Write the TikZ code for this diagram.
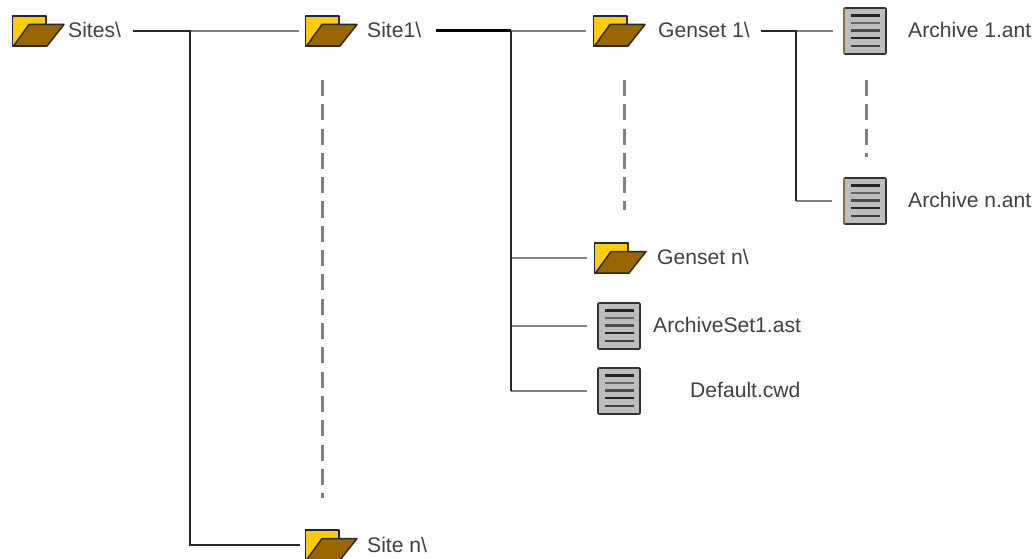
\documentclass[tikz,border=0pt]{standalone}
\usepackage{fontspec}
\setmainfont{Liberation Sans}
\definecolor{fyellow}{HTML}{FFCC00}
\definecolor{fbrown}{HTML}{996600}
\definecolor{dgrey}{HTML}{BDBDBD}
\definecolor{lgrey}{HTML}{808080}
\definecolor{ltext}{HTML}{404040}
\definecolor{dedge}{HTML}{8A7340}
\tikzset{
  x=1pt,y=-1pt,
  lab/.style={inner sep=0pt,font=\fontsize{21.1}{23}\selectfont,text=ltext,anchor=west},
  folder/.style={inner sep=0pt,minimum width=56pt,minimum height=34pt,
    path picture={
      \begin{scope}[shift={(path picture bounding box.center)},line width=1.5pt,draw=black!85,line join=round]
        \draw[fill=fyellow] (-25.5,-15) rectangle (8,15);
        \draw[fill=fbrown] (-24.5,15) -- (-9,-6.5) -- (26,-6.5) -- (9,15) -- cycle;
      \end{scope}}},
  docu/.style={inner sep=0pt,minimum width=46pt,minimum height=49pt,
    path picture={
      \begin{scope}[shift={(path picture bounding box.center)}]
        \draw[fill=dgrey,draw=black!80,line width=1.6pt,rounded corners=1pt] (-21,-23) rectangle (21,23);
        \foreach \yy/\cc/\ww in {-15.5/black!85/2.2,-8/black!60/2.6,-0.5/black!70/2.4,7/black!85/2.2,15/black!75/2.4}
          \draw[\cc,line width=\ww pt] (-14.5,\yy) -- (14.5,\yy);
      \end{scope}}},
  blk/.style={draw=black!85,line width=2.2pt},
  thk/.style={draw=black,line width=3pt},
  gry/.style={draw=lgrey,line width=2.8pt},
  dsh/.style={draw=lgrey,line width=3pt,dash pattern=on 16pt off 8.3pt},
  edg/.style={draw=dedge,line width=1.5pt},
}
\begin{document}
\begin{tikzpicture}
\useasboundingbox (0,0) rectangle (1034,559);
% icons
\node[folder] (sitesF) at (38,31) {};
\node[folder] (site1F) at (331,31) {};
\node[folder] (sitenF) at (331,545) {};
\node[folder] (gen1F) at (619,31) {};
\node[folder] (gennF) at (620,258) {};
\node[docu] (arc1D) at (865,31) {};
\node[docu] (arcnD) at (865,201) {};
\node[docu] (asetD) at (619,326) {};
\node[docu] (defD) at (619,391) {};
% labels
\node[lab] (sitesL) at (68,30) {Sites\textbackslash};
\node[lab] (site1L) at (367,30) {Site1\textbackslash};
\node[lab] (sitenL) at (367,545) {Site n\textbackslash};
\node[lab] (gen1L) at (658,30) {Genset 1\textbackslash};
\node[lab] (gennL) at (657,257) {Genset n\textbackslash};
\node[lab] (arc1L) at (908,30) {Archive 1.ant};
\node[lab] (arcnL) at (908,200) {Archive n.ant};
\node[lab] (asetL) at (653,325) {ArchiveSet1.ast};
\node[lab] (defL) at (690,390) {Default.cwd};
% junctions and free ends
\coordinate (j1s) at (133,31);
\coordinate (j1) at (190,31);
\coordinate (j1e) at (299,31);
\coordinate (j2s) at (436,31);
\coordinate (j2) at (511,31);
\coordinate (j2e) at (586,31);
\coordinate (j3s) at (761,31);
\coordinate (j3) at (796,31);
\coordinate (j3e) at (833,31);
\coordinate (d1a) at (322,80);
\coordinate (d1b) at (322,498);
\coordinate (d2a) at (624,80);
\coordinate (d2b) at (624,210);
\coordinate (d3a) at (866,80);
\coordinate (d3b) at (866,157);
% brown edge of the archive icons
\draw[edg] ([xshift=2pt,yshift=-2pt]arc1D.north west) -- ([xshift=2pt,yshift=2pt]arc1D.south west);
\draw[edg] ([xshift=2pt,yshift=-2pt]arcnD.north west) -- ([xshift=2pt,yshift=2pt]arcnD.south west);
% connectors
\draw[gry] (j1) -- (j1e);
\draw[gry] (j2) -- (j2e);
\draw[gry] (j3) -- (j3e);
\draw[gry] (j2 |- gennF.west) -- ([xshift=-5pt]gennF.west);
\draw[gry] (j2 |- asetD.west) -- ([xshift=-9pt]asetD.west);
\draw[gry] (j2 |- defD.west) -- ([xshift=-9pt]defD.west);
\draw[gry] (j3 |- arcnD.west) -- ([xshift=-10pt]arcnD.west);
\draw[blk] (j1s) -- (j1) -- (j1 |- sitenF.west) -- ([xshift=-3pt]sitenF.west);
\draw[thk] (j2s) -- (j2);
\draw[blk] (j2) -- (j2 |- defD.west);
\draw[blk] (j3s) -- (j3) -- (j3 |- arcnD.west);
\draw[dsh] (d1a) -- (d1b);
\draw[dsh] (d2a) -- (d2b);
\draw[dsh] (d3a) -- (d3b);
\end{tikzpicture}
\end{document}
